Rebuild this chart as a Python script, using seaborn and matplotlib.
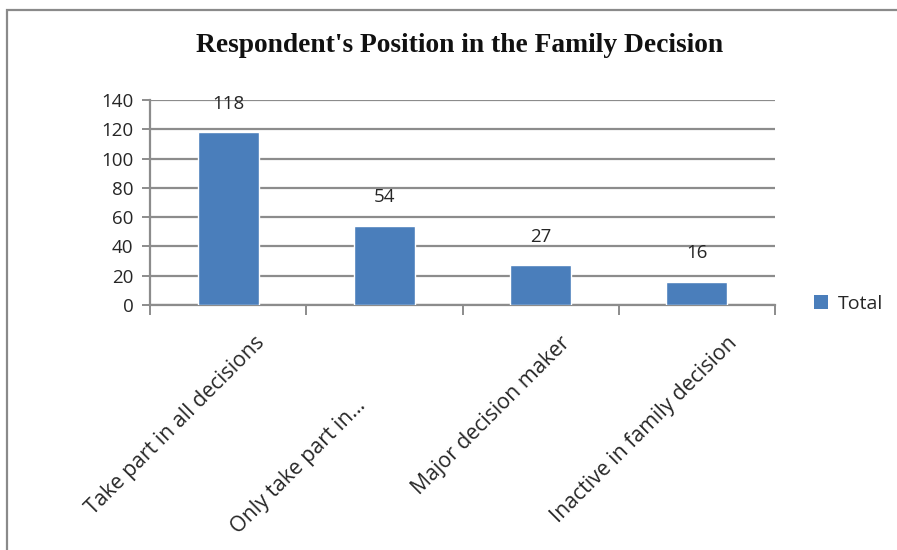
import matplotlib
matplotlib.use("Agg")
import matplotlib.pyplot as plt
import matplotlib.transforms as mtransforms
from matplotlib.patches import Rectangle, Patch
import seaborn as sns
import pandas as pd

categories = ["Take part in all decisions", "Only take part in...",
              "Major decision maker", "Inactive in family decision"]
totals = [118, 54, 27, 16]
series_name = "Total"
title = "Respondent's Position in the Family Decision"
y_ticks = [0, 20, 40, 60, 80, 100, 120, 140]

bar_color = "#4A7EBB"
grid_color = "#8C8C8C"
text_color = "#262626"

sns.set_theme(style="white")
plt.rcParams["font.family"] = ["Open Sans", "DejaVu Sans"]

df = pd.DataFrame({"category": categories, "total": totals})

W, H = 897, 550
fig = plt.figure(figsize=(W / 100, H / 100), dpi=100)
ax = fig.add_axes([150 / W, 1 - 305 / H, (775 - 150) / W, (305 - 100) / H])

sns.barplot(data=df, x="category", y="total", color=bar_color,
            saturation=1, width=0.39, ax=ax, zorder=3)

ax.set_xlim(-0.5, len(categories) - 0.5)
ax.set_ylim(0, 140)
ax.set_yticks(y_ticks)
ax.set_xlabel("")
ax.set_ylabel("")

# horizontal gridlines and axis styling
ax.yaxis.grid(True, color=grid_color, linewidth=1.6, zorder=0)
ax.set_axisbelow(True)
for side in ["top", "right"]:
    ax.spines[side].set_visible(False)
for side in ["left", "bottom"]:
    ax.spines[side].set_color(grid_color)
    ax.spines[side].set_linewidth(1.6)

ax.tick_params(axis="y", which="major", direction="out", length=6,
               width=1.4, color=grid_color, labelsize=13.5,
               labelcolor=text_color, pad=6, left=True)

# category boundary ticks (minor) and unticked category labels (major)
ax.set_xticks([i - 0.5 for i in range(len(categories) + 1)], minor=True)
ax.tick_params(axis="x", which="minor", direction="out", length=7,
               width=1.4, color=grid_color, bottom=True)
ax.tick_params(axis="x", which="major", length=0, pad=25,
               labelsize=15.3, labelcolor=text_color)

label_shift = [(33, 0), (-22, -63), (26, 0), (37, 0)]
for lab, (dx, dy) in zip(ax.get_xticklabels(), label_shift):
    lab.set_rotation(45)
    lab.set_ha("right")
    lab.set_va("center")
    lab.set_rotation_mode("anchor")
    off = mtransforms.ScaledTranslation(dx / 100, dy / 100, fig.dpi_scale_trans)
    lab.set_transform(lab.get_transform() + off)

# value labels above bars
for container in ax.containers:
    for rect, val in zip(container, totals):
        ax.annotate(f"{val}",
                    xy=(rect.get_x() + rect.get_width() / 2, rect.get_height()),
                    xytext=(0, 20.5), textcoords="offset points",
                    ha="center", va="center", fontsize=13.5, color=text_color)

fig.text(460 / W, 1 - 46 / H, title, ha="center", va="center",
         fontsize=19.8, fontweight="bold", family="Liberation Serif",
         color="#111111")

fig.legend(handles=[Patch(facecolor=bar_color, edgecolor="none", label=series_name)],
           loc="center left", bbox_to_anchor=(804 / W, 1 - 304 / H),
           frameon=False, fontsize=14, handlelength=0.75, handleheight=0.75,
           handletextpad=0.5, borderpad=0, labelcolor=text_color)

# outer chart frame
fig.add_artist(Rectangle((7 / W, -0.2), 1.2, 1.2 - 10 / H,
                         transform=fig.transFigure, fill=False,
                         edgecolor="#8A8A8A", linewidth=1.6))

fig.savefig("out.png", dpi=100)
